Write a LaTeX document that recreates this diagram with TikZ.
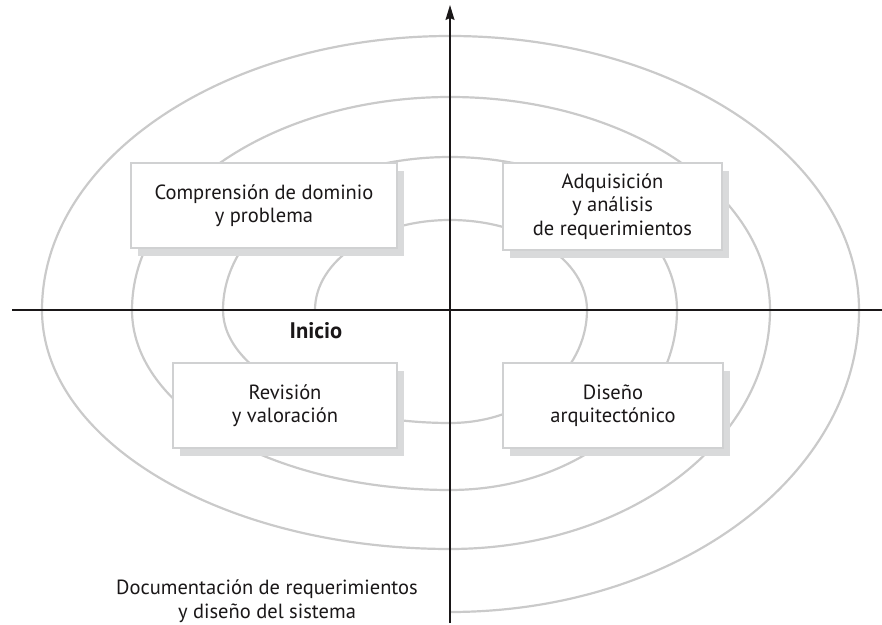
\documentclass[tikz,border=0pt]{standalone}
\usepackage{fontspec}
\setmainfont{PT Sans}
\usetikzlibrary{arrows.meta,shadows}
\definecolor{spiralgray}{HTML}{CACACA}
\definecolor{boxgray}{HTML}{D0D1D2}
\definecolor{shadowgray}{HTML}{D9DADB}
\definecolor{ink}{HTML}{1A1718}
\begin{document}
\begin{tikzpicture}[x=1pt,y=1pt,
  spiral/.style={draw=spiralgray, line width=2.2pt},
  axisline/.style={draw=ink, line width=1.3pt},
  stagebox/.style={draw=boxgray, line width=2pt, fill=white, align=center,
    inner sep=0pt, font=\fontsize{20.5}{23.5}\selectfont, text=ink,
    drop shadow={shadow xshift=7pt, shadow yshift=-8pt, fill=shadowgray, opacity=1}},
  plaintext/.style={align=center, inner sep=0pt, text=ink, font=\fontsize{20.5}{23.5}\selectfont}]
\useasboundingbox (0,0) rectangle (882,624);
% spiral
\draw[spiral] (315,314)
  arc[start angle=180, end angle=90, x radius=135, y radius=90]
  arc[start angle=90, end angle=0, x radius=137, y radius=90]
  arc[start angle=0, end angle=-90, x radius=137, y radius=113]
  arc[start angle=-90, end angle=-180, x radius=227, y radius=113]
  arc[start angle=180, end angle=90, x radius=227, y radius=153]
  arc[start angle=90, end angle=0, x radius=227, y radius=153]
  arc[start angle=0, end angle=-90, x radius=227, y radius=180]
  arc[start angle=-90, end angle=-180, x radius=318, y radius=180]
  arc[start angle=180, end angle=90, x radius=318, y radius=213]
  arc[start angle=90, end angle=0, x radius=320, y radius=213]
  arc[start angle=0, end angle=-90, x radius=320, y radius=239]
  arc[start angle=-90, end angle=-180, x radius=408, y radius=239]
  arc[start angle=180, end angle=90, x radius=408, y radius=274]
  arc[start angle=90, end angle=0, x radius=409, y radius=274]
  arc[start angle=0, end angle=-90, x radius=409, y radius=302];
% boxes
\node[stagebox, minimum width=266pt, minimum height=85pt] (dom) at (264,418.5)
  {Comprensión de dominio\\y problema};
\node[stagebox, minimum width=219pt, minimum height=87pt] (adq) at (612.5,417.5)
  {Adquisición\\y análisis\\de requerimientos};
\node[stagebox, minimum width=224pt, minimum height=85pt] (rev) at (285,218.5)
  {Revisión\\y valoración};
\node[stagebox, minimum width=220pt, minimum height=85pt] (dis) at (613,218.5)
  {Diseño\\arquitectónico};
% labels
\node[plaintext, font=\fontsize{22.5}{26}\selectfont\bfseries] (ini) at (316,293) {Inicio};
\node[plaintext] (doc) at (267,23) {Documentación de requerimientos\\y diseño del sistema};
% axes
\coordinate (hl) at (12,314);
\coordinate (hr) at (882,314);
\coordinate (vb) at (450,1);
\coordinate (vt) at (450,619);
\draw[axisline] (hl) -- (hr);
\draw[axisline, -{Stealth[length=15pt, width=9pt, inset=2pt]}] (vb) -- (vt);
\end{tikzpicture}
\end{document}
